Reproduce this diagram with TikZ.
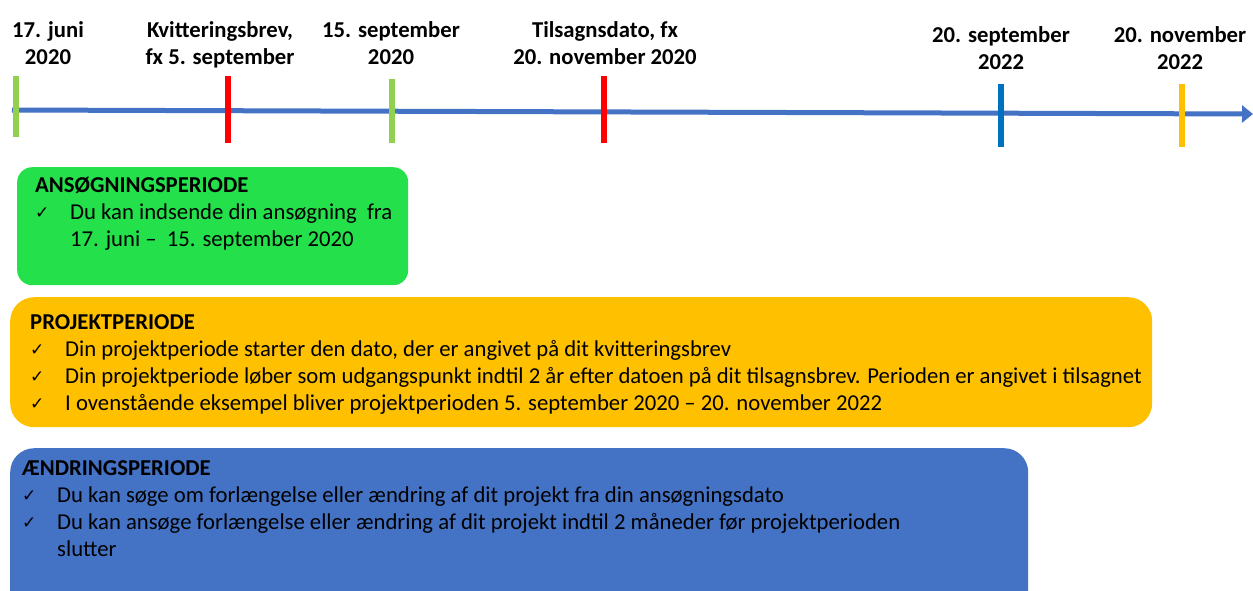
\documentclass[tikz,border=0pt]{standalone}
\usepackage{fontspec}
\setmainfont{Carlito}
\newfontfamily\symfont{DejaVu Sans}
\usetikzlibrary{arrows.meta,positioning}
\definecolor{akseblaa}{RGB}{68,114,196}
\definecolor{lysgroen}{RGB}{146,208,80}
\definecolor{moerkblaa}{RGB}{0,112,192}
\definecolor{guld}{RGB}{255,192,0}
\definecolor{ansgroen}{RGB}{35,224,75}
\newcommand\tekst{\fontsize{22.7}{27}\selectfont}
\newcommand\chk{\makebox[35pt][l]{\raisebox{1pt}{\symfont\fontsize{17}{17}\selectfont ✓}}}
\newcommand\datomark[4]{\draw[line width=5.5pt, #4] (#1,#2) -- (#1,#3);}
\tikzset{
  datotekst/.style={font=\tekst\bfseries, align=center, anchor=base, inner sep=0pt},
  boks/.style={anchor=north west, inner sep=0pt, rounded corners=#1},
  bokstekst/.style={font=\tekst, align=left, anchor=base west, inner sep=0pt}
}

\begin{document}
\begin{tikzpicture}[x=1pt,y=-1pt]
\useasboundingbox (0,0) rectangle (1253,590);
\clip (0,0) rectangle (1253,590);
% tidslinje
\coordinate (start) at (12,110);
\coordinate (slut) at (1253,114);
\draw[akseblaa, line width=5pt, -{Triangle[length=11pt,width=17pt]}] (start) -- (slut);
\datomark{16}{76}{137}{lysgroen}
\datomark{228}{76}{143}{red}
\datomark{392}{79}{143}{lysgroen}
\datomark{604}{76}{143}{red}
\datomark{1001}{84}{147}{moerkblaa}
\datomark{1182}{84}{147}{guld}
% base = sidste linjes grundlinje
\node[datotekst] (juni) at (48,64) {17. juni\\2020};
\node[datotekst] (kvit) at (220,64) {Kvitteringsbrev,\\fx 5. september};
\node[datotekst] (sep20) at (391,64) {15. september\\2020};
\node[datotekst] (tilsagn) at (605,64) {Tilsagnsdato, fx\\20. november 2020};
\node[datotekst] (sep22) at (1001,69) {20. september\\2022};
\node[datotekst] (nov22) at (1180,69) {20. november\\2022};
% perioder
\node[boks=15pt, fill=ansgroen, minimum width=391pt, minimum height=118pt] (ansboks) at (17,167) {};
\node[boks=24pt, fill=guld, minimum width=1142pt, minimum height=130pt] (projboks) at (10,297) {};
\node[boks=24pt, fill=akseblaa, minimum width=1018pt, minimum height=170pt] (aendboks) at (10,448) {};
\node[bokstekst] (anstekst) at (35,246) {\textbf{ANSØGNINGSPERIODE}\\
  \chk Du kan indsende din ansøgning\ \ fra\\
  \hspace*{35pt}17. juni --\ \ 15. september 2020};
\node[bokstekst] (projtekst) at (30,410) {\textbf{PROJEKTPERIODE}\\
  \chk Din projektperiode starter den dato, der er angivet på dit kvitteringsbrev\\
  \chk Din projektperiode løber som udgangspunkt indtil 2 år efter datoen på dit tilsagnsbrev. Perioden er angivet i tilsagnet\\
  \chk I ovenstående eksempel bliver projektperioden 5. september 2020 -- 20. november 2022};
\node[bokstekst] (aendtekst) at (22,556) {\textbf{ÆNDRINGSPERIODE}\\
  \chk Du kan søge om forlængelse eller ændring af dit projekt fra din ansøgningsdato\\
  \chk Du kan ansøge forlængelse eller ændring af dit projekt indtil 2 måneder før projektperioden\\
  \hspace*{35pt}slutter};
\end{tikzpicture}
\end{document}
